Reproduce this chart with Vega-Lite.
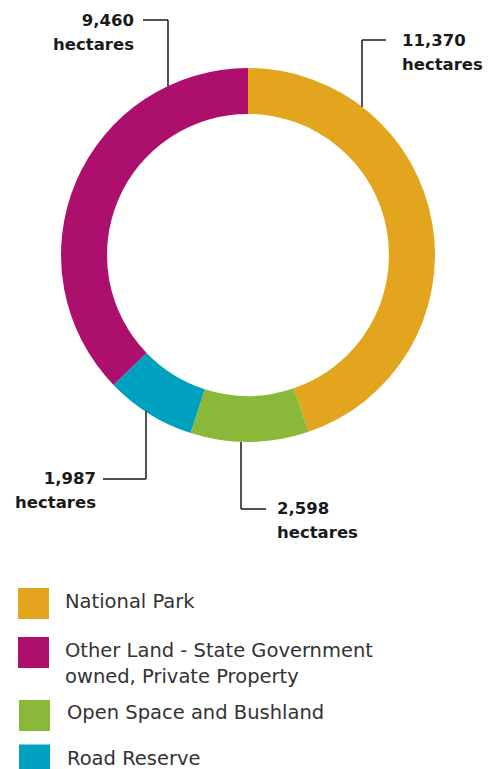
{
  "$schema": "https://vega.github.io/schema/vega-lite/v6.json",
  "width": 489,
  "height": 769,
  "autosize": {"type": "none"},
  "padding": 0,
  "background": "white",
  "config": {"view": {"stroke": null}, "font": "DejaVu Sans"},
  "datasets": {
    "segments": [
      {"category": "National Park", "hectares": 11370, "order": 1},
      {"category": "Open Space and Bushland", "hectares": 2598, "order": 2},
      {"category": "Road Reserve", "hectares": 1987, "order": 3},
      {"category": "Other Land - State Government owned, Private Property", "hectares": 9460, "order": 4}
    ],
    "leaders": [
      {"seg": "9460 a", "x": -0.5615, "y": 1.2567, "x2": -0.4278, "y2": 1.2567},
      {"seg": "9460 b", "x": -0.4278, "y": 1.2567, "x2": -0.4278, "y2": 0.9037},
      {"seg": "11370 a", "x": 0.6096, "y": 1.1497, "x2": 0.7380, "y2": 1.1497},
      {"seg": "11370 b", "x": 0.6096, "y": 1.1497, "x2": 0.6096, "y2": 0.7914},
      {"seg": "1987 a", "x": -0.7754, "y": -1.1979, "x2": -0.5455, "y2": -1.1979},
      {"seg": "1987 b", "x": -0.5455, "y": -1.1979, "x2": -0.5455, "y2": -0.8342},
      {"seg": "2598 a", "x": -0.0374, "y": -1.0, "x2": -0.0374, "y2": -1.3583},
      {"seg": "2598 b", "x": -0.0374, "y": -1.3583, "x2": 0.0963, "y2": -1.3583}
    ],
    "labels": [
      {"value": "9,460", "side": "right", "tx": -0.6096, "ty": 1.2487},
      {"value": "11,370", "side": "left", "tx": 0.8235, "ty": 1.1417},
      {"value": "1,987", "side": "right", "tx": -0.8128, "ty": -1.2005},
      {"value": "2,598", "side": "left", "tx": 0.1551, "ty": -1.3583}
    ],
    "legendKeys": [
      {"category": "National Park", "sx": -1.1471, "sy": -1.8636},
      {"category": "Other Land - State Government owned, Private Property", "sx": -1.1471, "sy": -2.1257},
      {"category": "Open Space and Bushland", "sx": -1.1417, "sy": -2.4626},
      {"category": "Road Reserve", "sx": -1.1417, "sy": -2.7005}
    ],
    "legendText": [
      {"text": "National Park", "tx": -0.9786, "ty": -1.853},
      {"text": "Other Land - State Government", "tx": -0.9786, "ty": -2.1203},
      {"text": "owned, Private Property", "tx": -0.9786, "ty": -2.2567},
      {"text": "Open Space and Bushland", "tx": -0.9679, "ty": -2.4492},
      {"text": "Road Reserve", "tx": -0.9679, "ty": -2.6952}
    ]
  },
  "layer": [
    {
      "data": {"name": "segments"},
      "mark": {"type": "arc", "innerRadius": 141, "outerRadius": 187},
      "encoding": {
        "x": {"datum": 0, "type": "quantitative", "scale": {"domain": [-1.3262, 1.2888], "nice": false, "zero": false}, "axis": null},
        "y": {"datum": 0, "type": "quantitative", "scale": {"domain": [-2.7487, 1.3636], "nice": false, "zero": false}, "axis": null},
        "theta": {"field": "hectares", "type": "quantitative", "stack": true},
        "order": {"field": "order", "type": "quantitative"},
        "color": {
          "field": "category", "type": "nominal", "legend": null,
          "scale": {
            "domain": ["National Park", "Other Land - State Government owned, Private Property", "Open Space and Bushland", "Road Reserve"],
            "range": ["#E3A51E", "#AD0F6C", "#8AB838", "#00A0BF"]
          }
        }
      }
    },
    {
      "data": {"name": "leaders"},
      "mark": {"type": "rule", "color": "#1a1a1a", "strokeWidth": 1.5},
      "encoding": {
        "x": {"field": "x", "type": "quantitative"},
        "y": {"field": "y", "type": "quantitative"},
        "x2": {"field": "x2"},
        "y2": {"field": "y2"}
      }
    },
    {
      "data": {"name": "labels"},
      "transform": [{"filter": "datum.side === 'right'"}],
      "encoding": {
        "x": {"field": "tx", "type": "quantitative"},
        "y": {"field": "ty", "type": "quantitative"}
      },
      "layer": [
        {"mark": {"type": "text", "align": "right", "baseline": "middle", "fontSize": 16.5, "fontWeight": "bold", "color": "#1a1a1a"}, "encoding": {"text": {"field": "value"}}},
        {"mark": {"type": "text", "align": "right", "baseline": "middle", "fontSize": 16.5, "fontWeight": "bold", "color": "#1a1a1a", "dy": 24}, "encoding": {"text": {"value": "hectares"}}}
      ]
    },
    {
      "data": {"name": "labels"},
      "transform": [{"filter": "datum.side === 'left'"}],
      "encoding": {
        "x": {"field": "tx", "type": "quantitative"},
        "y": {"field": "ty", "type": "quantitative"}
      },
      "layer": [
        {"mark": {"type": "text", "align": "left", "baseline": "middle", "fontSize": 16.5, "fontWeight": "bold", "color": "#1a1a1a"}, "encoding": {"text": {"field": "value"}}},
        {"mark": {"type": "text", "align": "left", "baseline": "middle", "fontSize": 16.5, "fontWeight": "bold", "color": "#1a1a1a", "dy": 24}, "encoding": {"text": {"value": "hectares"}}}
      ]
    },
    {
      "data": {"name": "legendKeys"},
      "mark": {"type": "point", "shape": "square", "filled": true, "size": 961, "opacity": 1},
      "encoding": {
        "x": {"field": "sx", "type": "quantitative"},
        "y": {"field": "sy", "type": "quantitative"},
        "color": {"field": "category", "type": "nominal", "legend": null}
      }
    },
    {
      "data": {"name": "legendText"},
      "mark": {"type": "text", "align": "left", "baseline": "middle", "fontSize": 19.5, "color": "#333333"},
      "encoding": {
        "x": {"field": "tx", "type": "quantitative"},
        "y": {"field": "ty", "type": "quantitative"},
        "text": {"field": "text"}
      }
    }
  ]
}
